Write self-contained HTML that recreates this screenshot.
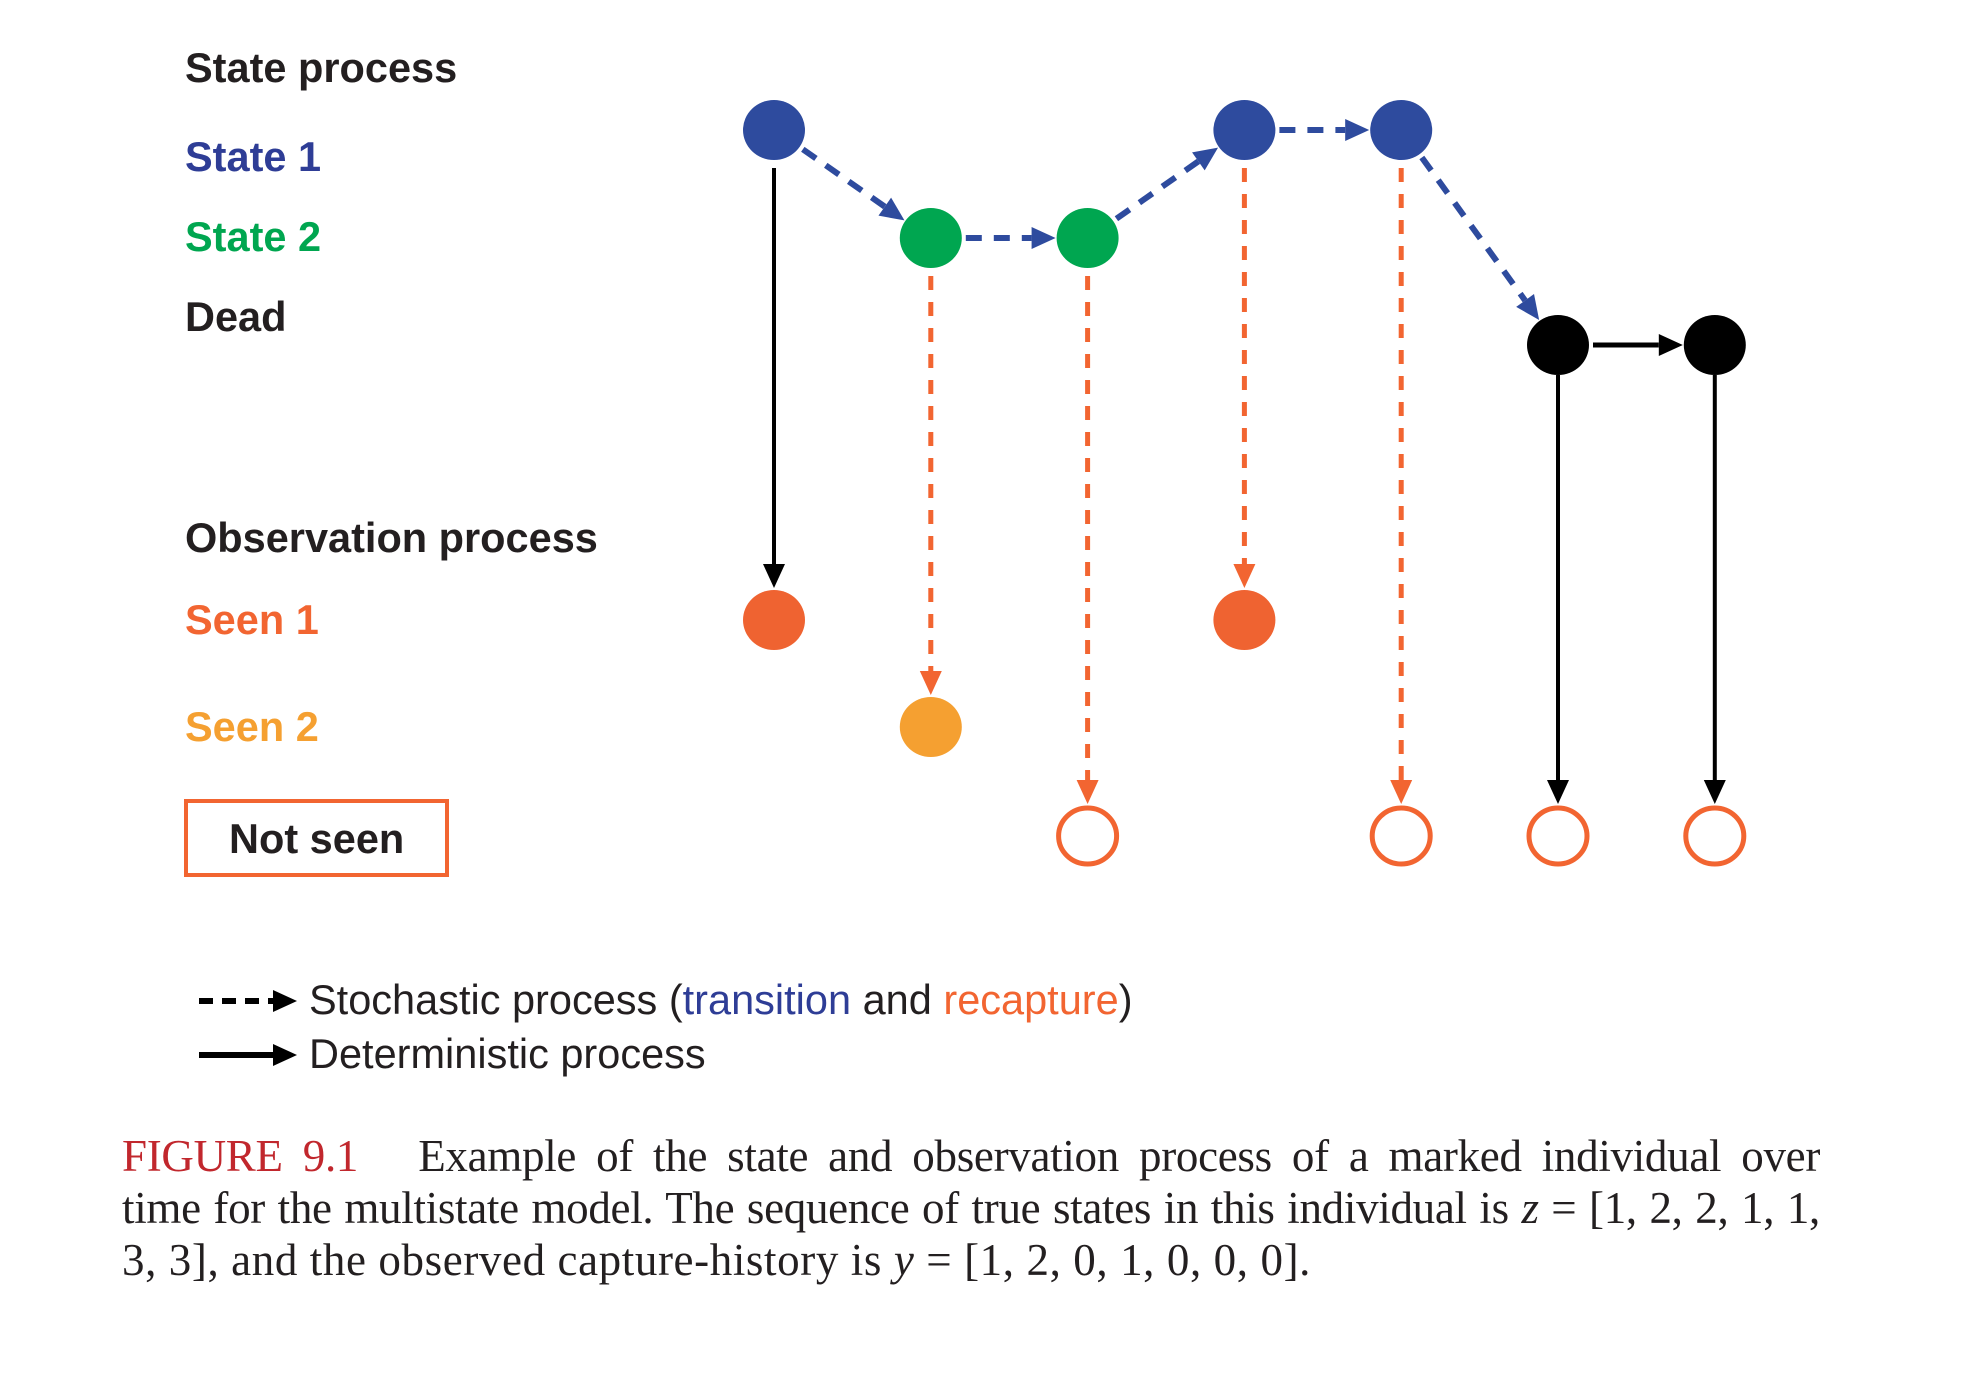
<!DOCTYPE html>
<html><head><meta charset="utf-8">
<style>
html,body{margin:0;padding:0;background:#fff;}
body{width:1962px;height:1374px;position:relative;overflow:hidden;font-family:"Liberation Sans",sans-serif;}
.lbl{position:absolute;font-weight:bold;font-size:41.5px;white-space:nowrap;line-height:1;}
.cap{position:absolute;left:122px;width:1698px;font-family:"Liberation Serif",serif;font-size:45px;letter-spacing:-0.3px;color:#231f20;line-height:52px;white-space:nowrap;}
.j{text-align:justify;text-align-last:justify;}
.leg{position:absolute;left:309px;font-size:41.5px;color:#231f20;white-space:nowrap;line-height:1;}
</style></head><body>
<div class="lbl" style="left:185px;top:47px;color:#231f20">State process</div>
<div class="lbl" style="left:185px;top:136px;color:#2e3d96">State 1</div>
<div class="lbl" style="left:185px;top:216px;color:#00a650">State 2</div>
<div class="lbl" style="left:185px;top:296px;color:#231f20">Dead</div>
<div class="lbl" style="left:185px;top:517px;color:#231f20">Observation process</div>
<div class="lbl" style="left:185px;top:599px;color:#f26531">Seen 1</div>
<div class="lbl" style="left:185px;top:706px;color:#f5a031">Seen 2</div>
<div style="position:absolute;left:184px;top:799px;width:257px;height:70px;border:4px solid #f26531;"></div>
<div class="lbl" style="left:229px;top:818px;color:#231f20">Not seen</div>

<svg id="diag" width="1962" height="1374" style="position:absolute;left:0;top:0" xmlns="http://www.w3.org/2000/svg"></svg>

<div class="leg" style="top:979px">Stochastic process (<span style="color:#2e3d96">transition</span> and <span style="color:#f26531">recapture</span>)</div>
<div class="leg" style="top:1033px">Deterministic process</div>

<div class="cap j" style="top:1130px"><span style="color:#c1272d">FIGURE 9.1</span>&nbsp;&nbsp; Example of the state and observation process of a marked individual over</div>
<div class="cap j" style="top:1182px">time for the multistate model. The sequence of true states in this individual is <i>z</i> = [1, 2, 2, 1, 1,</div>
<div class="cap" style="top:1234px;letter-spacing:0.6px">3, 3], and the observed capture-history is <i>y</i> = [1, 2, 0, 1, 0, 0, 0].</div>

<script>
const occasions = [1,2,3,4,5,6,7];
const trueStates = [1,2,2,1,1,3,3];
const observed = [1,2,0,1,0,0,0];

const NS='http://www.w3.org/2000/svg';
const svg=document.getElementById('diag');
const xOf=i=>774+i*156.8;
const stateY={1:130,2:238,3:345};
const obsY={1:620,2:727,0:836};
const stateCol={1:'#2e4b9e',2:'#00a650',3:'#000'};
const obsCol={1:'#ef6331',2:'#f5a031'};
const BLUE='#2e4b9e',OR='#f26531',BK='#000';
const RX=31,RY=30;
function mk(t,a){const e=document.createElementNS(NS,t);for(const k in a)e.setAttribute(k,a[k]);svg.appendChild(e);return e;}
function arrow(x1,y1,x2,y2,col,dash,w,name){
  const dx=x2-x1,dy=y2-y1,L=Math.hypot(dx,dy),ux=dx/L,uy=dy/L,h=24,hw=11;
  const bx=x2-ux*h,by=y2-uy*h;
  const l=mk('line',{x1:x1,y1:y1,x2:bx,y2:by,stroke:col,'stroke-width':w});
  if(dash)l.setAttribute('stroke-dasharray',dash);
  
  
  const p=mk('polygon',{points:`${x2},${y2} ${bx-uy*hw},${by+ux*hw} ${bx+uy*hw},${by-ux*hw}`,fill:col});
  
  
}
arrow(199,1001,297,1001,BK,'14,9',6,'legend-dashed-arrow');
arrow(199,1055,297,1055,BK,null,6,'legend-solid-arrow');
for(let i=0;i<trueStates.length-1;i++){
  const x1=xOf(i),y1=stateY[trueStates[i]],x2=xOf(i+1),y2=stateY[trueStates[i+1]];
  const dx=x2-x1,dy=y2-y1,L=Math.hypot(dx,dy);
  const det=trueStates[i]===3;
  arrow(x1+dx/L*(RX+4),y1+dy/L*(RY+4),x2-dx/L*(RX+1),y2-dy/L*(RY+1),det?BK:BLUE,det?null:'16,12',det?5:6,'transition-arrow-'+(i+1));
}
trueStates.forEach((s,i)=>{
  const x=xOf(i),y1=stateY[s]+RY+(s===3?0:8),y2=obsY[observed[i]]-RY-2;
  const det=(s===3)||i===0;
  arrow(x,y1,x,y2,det?BK:OR,det?null:'14,12',det?4:5,'observation-arrow-'+(i+1));
});
trueStates.forEach((s,i)=>{
  const e=mk('ellipse',{cx:xOf(i),cy:stateY[s],rx:RX,ry:RY,fill:stateCol[s]});
  
  
});
observed.forEach((o,i)=>{
  const e=o===0?mk('ellipse',{cx:xOf(i),cy:obsY[0],rx:RX-2,ry:RY-2,fill:'#fff',stroke:OR,'stroke-width':5})
               :mk('ellipse',{cx:xOf(i),cy:obsY[o],rx:RX,ry:RY,fill:obsCol[o]});
  
  
});
</script>
</body></html>
